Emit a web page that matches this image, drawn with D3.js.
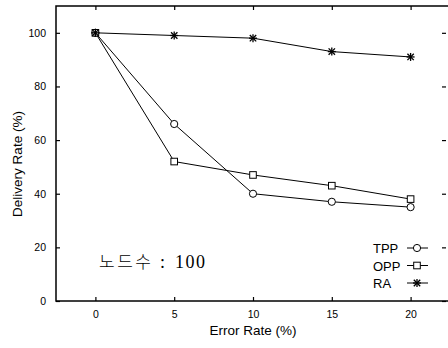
<!DOCTYPE html>
<html>
<head>
<meta charset="utf-8">
<script src="https://cdn.jsdelivr.net/npm/d3@7"></script>
<style>
  body { margin: 0; background: #fff; }
  svg { display: block; }
</style>
</head>
<body>
<svg id="chart" width="448" height="348"></svg>
<script>
const errorRates = [0, 5, 10, 15, 20];
const tppValues = [100, 66, 40, 37, 35];
const oppValues = [100, 52, 47, 43, 38];
const raValues = [100, 99, 98, 93, 91];
const yTicks = [0, 20, 40, 60, 80, 100];
const seriesNames = ['TPP', 'OPP', 'RA'];

const svg = d3.select('#chart');
const plotLeft = 56, plotRight = 450, plotTop = 6, plotBottom = 301;

const x = d3.scaleLinear().domain([-2.5, 22.5]).range([plotLeft, plotRight]);
const y = d3.scaleLinear().domain([0, 110]).range([plotBottom, plotTop]);

// frame
svg.append('rect')
  .attr('x', plotLeft).attr('y', plotTop)
  .attr('width', plotRight - plotLeft).attr('height', plotBottom - plotTop)
  .attr('fill', 'none').attr('stroke', '#000').attr('stroke-width', 1.5);

// axes with inward ticks
svg.append('g').attr('transform', `translate(0,${plotBottom})`)
  .call(d3.axisBottom(x).tickValues(errorRates).tickSize(-4).tickPadding(10));
svg.append('g').attr('transform', `translate(${plotLeft},0)`)
  .call(d3.axisLeft(y).tickValues(yTicks).tickSize(-4).tickPadding(10));
svg.append('g').attr('transform', `translate(0,${plotTop})`)
  .call(d3.axisTop(x).tickValues(errorRates).tickSize(-4).tickFormat(''));
svg.append('g').attr('transform', `translate(${plotRight - 4},0)`)
  .call(d3.axisRight(y).tickValues(yTicks).tickSize(-4).tickFormat(''));

svg.selectAll('.domain').remove();
svg.selectAll('.tick line').attr('stroke', '#000').attr('stroke-width', 1.2);
svg.selectAll('.tick text')
  .attr('font-family', 'Liberation Sans, Arial, sans-serif')
  .attr('font-size', 10.5).attr('fill', '#000');

// axis titles
svg.append('text')
  .attr('x', 253).attr('y', 335)
  .attr('text-anchor', 'middle')
  .attr('font-family', 'Liberation Sans, Arial, sans-serif')
  .attr('font-size', 13.5)
  .text('Error Rate (%)');
svg.append('text')
  .attr('transform', 'translate(22,164) rotate(-90)')
  .attr('text-anchor', 'middle')
  .attr('font-family', 'Liberation Sans, Arial, sans-serif')
  .attr('font-size', 13.5)
  .text('Delivery Rate (%)');

const seriesData = [tppValues, oppValues, raValues];
const line = d3.line().x((d, i) => x(errorRates[i])).y(d => y(d));

seriesData.forEach(vals => {
  svg.append('path')
    .datum(vals)
    .attr('d', line)
    .attr('fill', 'none')
    .attr('stroke', '#000')
    .attr('stroke-width', 1);
});

function drawMarker(g, kind, cx, cy) {
  if (kind === 'TPP') {
    g.append('circle').attr('cx', cx).attr('cy', cy).attr('r', 3.6)
      .attr('fill', '#fff').attr('stroke', '#000').attr('stroke-width', 1);
  } else if (kind === 'OPP') {
    g.append('rect').attr('x', cx - 3.3).attr('y', cy - 3.3)
      .attr('width', 6.6).attr('height', 6.6)
      .attr('fill', '#fff').attr('stroke', '#000').attr('stroke-width', 1);
  } else {
    const s = 4;
    [[-s, 0, s, 0], [0, -s, 0, s], [-s * 0.8, -s * 0.8, s * 0.8, s * 0.8], [-s * 0.8, s * 0.8, s * 0.8, -s * 0.8]]
      .forEach(l => g.append('line')
        .attr('x1', cx + l[0]).attr('y1', cy + l[1])
        .attr('x2', cx + l[2]).attr('y2', cy + l[3])
        .attr('stroke', '#000').attr('stroke-width', 1.3));
  }
}

const markers = svg.append('g');
seriesData.forEach((vals, k) => {
  vals.forEach((v, i) => drawMarker(markers, seriesNames[k], x(errorRates[i]), y(v)));
});

// legend
const legend = svg.append('g');
seriesNames.forEach((name, k) => {
  const ly = 248 + k * 17.5;
  legend.append('text')
    .attr('x', 373).attr('y', ly + 5)
    .attr('font-family', 'Liberation Sans, Arial, sans-serif')
    .attr('font-size', 13)
    .text(name);
  legend.append('line')
    .attr('x1', 407).attr('x2', 428).attr('y1', ly).attr('y2', ly)
    .attr('stroke', '#000').attr('stroke-width', 1);
  drawMarker(legend, name, 417, ly);
});

// node count annotation
const note = svg.append('text').attr('y', 268);
note.append('tspan')
  .attr('x', 99)
  .attr('font-size', 17)
  .attr('letter-spacing', 2.5)
  .attr('font-family', 'Noto Sans CJK KR, sans-serif')
  .attr('font-weight', 300)
  .text('노드수');
note.append('tspan')
  .attr('x', 160)
  .attr('font-size', 18)
  .attr('font-family', 'Liberation Serif, serif')
  .text(':');
note.append('tspan')
  .attr('x', 175)
  .attr('font-size', 18)
  .attr('letter-spacing', 1.5)
  .attr('font-family', 'Liberation Serif, serif')
  .text('100');
</script>
</body>
</html>
